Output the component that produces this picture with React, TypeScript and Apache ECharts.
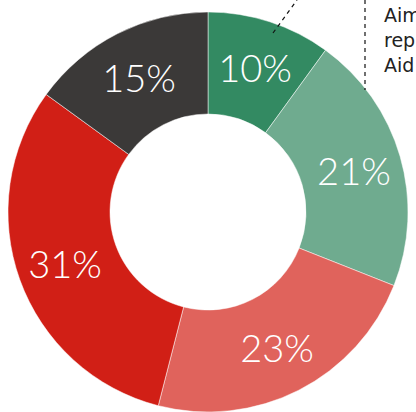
import React, { useEffect, useRef } from "react";
import * as echarts from "echarts";

const categories = ["A", "B", "C", "D", "E"];
const values = [10, 21, 23, 31, 15];
const colors = ["#338a62", "#6fab8f", "#e0635c", "#d11f16", "#3b3938"];
const sideText = ["Aim", "rep", "Aid"];

export default function App() {
  const ref = useRef<HTMLDivElement>(null);
  useEffect(() => {
    if (!ref.current) return;
    const chart = echarts.init(ref.current, null, { renderer: "svg" });
    chart.setOption({
      animation: false,
      backgroundColor: "#ffffff",
      graphic: [
        {
          type: "line",
          shape: { x1: 365, y1: 0, x2: 365, y2: 90 },
          style: { stroke: "#111", lineWidth: 1.2, lineDash: [4, 4] },
          z: 10,
        },
        {
          type: "line",
          shape: { x1: 273, y1: 33, x2: 297, y2: 0 },
          style: { stroke: "#111", lineWidth: 1.2, lineDash: [4, 4] },
          z: 10,
        },
        {
          type: "text",
          x: 384,
          y: 2,
          style: {
            text: sideText.join("\n"),
            fill: "#222",
            font: '19px "DejaVu Sans"',
            lineHeight: 25,
          },
          z: 10,
        },
      ],
      series: [
        {
          type: "pie",
          center: [208, 212],
          radius: [98, 200],
          startAngle: 90,
          clockwise: true,
          avoidLabelOverlap: false,
          itemStyle: { borderColor: "#ffffff", borderWidth: 0.5 },
          label: {
            show: true,
            position: "inside",
            formatter: "{c}%",
            color: "#ffffff",
            fontSize: 38,
            fontWeight: 300,
            fontFamily: "Lato",
          },
          labelLine: { show: false },
          emphasis: { disabled: true },
          data: categories.map((c, i) => ({
            name: c,
            value: values[i],
            itemStyle: { color: colors[i] },
          })),
        },
      ],
    });
    return () => chart.dispose();
  }, []);
  return (
    <div
      ref={ref}
      style={{ position: "absolute", left: 0, top: 0, width: 416, height: 412 }}
    />
  );
}
